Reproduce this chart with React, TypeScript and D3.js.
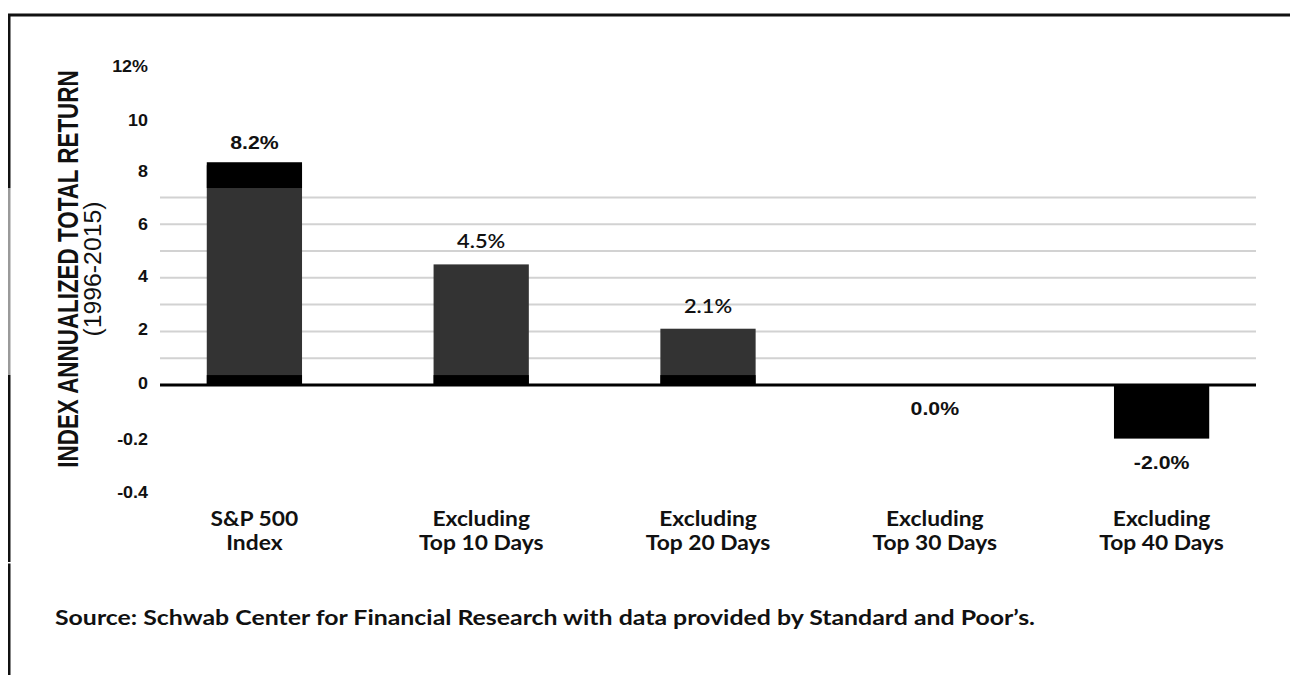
import React from "react";
import * as d3 from "d3";

const categories = ["S&P 500\nIndex", "Excluding\nTop 10 Days", "Excluding\nTop 20 Days", "Excluding\nTop 30 Days", "Excluding\nTop 40 Days"];
const values = [8.2, 4.5, 2.1, 0.0, -2.0];
const valueLabels = ["8.2%", "4.5%", "2.1%", "0.0%", "-2.0%"];
const tickValues = [12, 10, 8, 6, 4, 2, 0, -2, -4];
const tickLabels = ["12%", "10", "8", "6", "4", "2", "0", "-0.2", "-0.4"];
const gridValues = [1, 2, 3, 4, 5, 6, 7];
const yTitle = "INDEX ANNUALIZED TOTAL RETURN";
const ySubtitle = "(1996-2015)";
const source = "Source: Schwab Center for Financial Research with data provided by Standard and Poor\u2019s.";

const W = 1290;
const H = 675;

export default function App() {
  const x = d3.scaleBand<string>().domain(categories).range([141, 1275]).paddingInner(0.58).paddingOuter(0.29);
  const y = d3.scaleLinear().domain([-4, 12]).range([492.2, 63.4]);
  const gx0 = 160;
  const gx1 = 1256;
  const arial = "'Liberation Sans', Arial, sans-serif";
  const lato = "Lato, 'Noto Sans', sans-serif";

  return (
    <svg width={W} height={H} style={{ position: "absolute", left: 0, top: 0, background: "#fff" }}>
      <rect x={0} y={0} width={W} height={H} fill="#fff" />
      {/* frame */}
      <rect x={8} y={13.5} width={W - 8} height={3} fill="#111" />
      <rect x={8} y={14} width={2.5} height={174} fill="#111" />
      <rect x={8} y={188} width={2.5} height={187} fill="#9a9a9a" />
      <rect x={8} y={375} width={2.5} height={187} fill="#111" />
      <rect x={8} y={563.5} width={2.5} height={H - 563.5} fill="#111" />

      {/* gridlines */}
      {gridValues.map((g) => (
        <line key={g} x1={gx0} x2={gx1} y1={y(g)} y2={y(g)} stroke="#d2d2d2" strokeWidth={2} />
      ))}

      {/* bars */}
      {values.map((v, i) => {
        const bx = x(categories[i])!;
        const bw = x.bandwidth();
        const top = y(Math.max(v, 0));
        const bot = y(Math.min(v, 0));
        if (bot - top < 0.5) return null;
        return (
          <g key={i}>
            <rect x={bx} y={top} width={bw} height={bot - top} fill={v < 0 ? "#000" : "#333"} />
            {v > 0 && <rect x={bx} y={y(0.37)} width={bw} height={y(0) - y(0.37)} fill="#000" />}
            {i === 0 && <rect x={bx} y={top - 3} width={bw} height={y(v - 0.85) - top + 3} fill="#000" />}
          </g>
        );
      })}

      {/* zero axis */}
      <line x1={gx0} x2={gx1} y1={y(0)} y2={y(0)} stroke="#000" strokeWidth={3} />

      {/* tick labels */}
      {tickValues.map((t, i) => (
        <text
          key={t}
          transform={`translate(148,${y(t) + 6 + (t > 8 ? 2.5 : t < 6 && t >= 0 ? -2 : 0)}) scale(1.12,1)`}
          textAnchor="end"
          fontFamily={arial}
          fontWeight="bold"
          fontSize={16}
          fill="#111"
        >
          {tickLabels[i]}
        </text>
      ))}

      {/* value labels */}
      {values.map((v, i) => {
        const cx = x(categories[i])! + x.bandwidth() / 2;
        const ly = v > 0 ? y(v) - 16 : y(Math.min(v, 0)) + 30;
        const light = i === 1 || i === 2;
        return (
          <text
            key={i}
            transform={`translate(${cx},${ly}) scale(${light ? 1.12 : 1.15},1)`}
            textAnchor="middle"
            fontFamily={light ? lato : arial}
            fontWeight={light ? 600 : "bold"}
            fontSize={light ? 19.5 : 18.5}
            fill="#111"
          >
            {valueLabels[i]}
          </text>
        );
      })}

      {/* category labels */}
      {categories.map((c) => {
        const cx = x(c)! + x.bandwidth() / 2;
        return c.split("\n").map((line, j) => (
          <text
            key={c + j}
            transform={`translate(${cx},${526 + j * 24}) scale(1.14,1)`}
            textAnchor="middle"
            fontFamily={lato}
            fontWeight="bold"
            fontSize={20}
            fill="#111"
          >
            {line}
          </text>
        ));
      })}

      {/* y title */}
      <text
        transform={`translate(78,269) rotate(-90) scale(1,1.3)`}
        textAnchor="middle"
        fontFamily={arial}
        fontWeight="bold"
        fontSize={22.4}
        fill="#111"
      >
        {yTitle}
      </text>
      <text
        transform={`translate(101,269) rotate(-90) scale(1,1.3)`}
        textAnchor="middle"
        fontFamily={arial}
        fontSize={19}
        textLength={135}
        lengthAdjust="spacingAndGlyphs"
        fill="#111"
      >
        {ySubtitle}
      </text>

      {/* source */}
      <text
        x={55}
        y={625}
        fontFamily={lato}
        fontWeight="bold"
        fontSize={21}
        textLength={980}
        lengthAdjust="spacingAndGlyphs"
        fill="#111"
      >
        {source}
      </text>
    </svg>
  );
}
